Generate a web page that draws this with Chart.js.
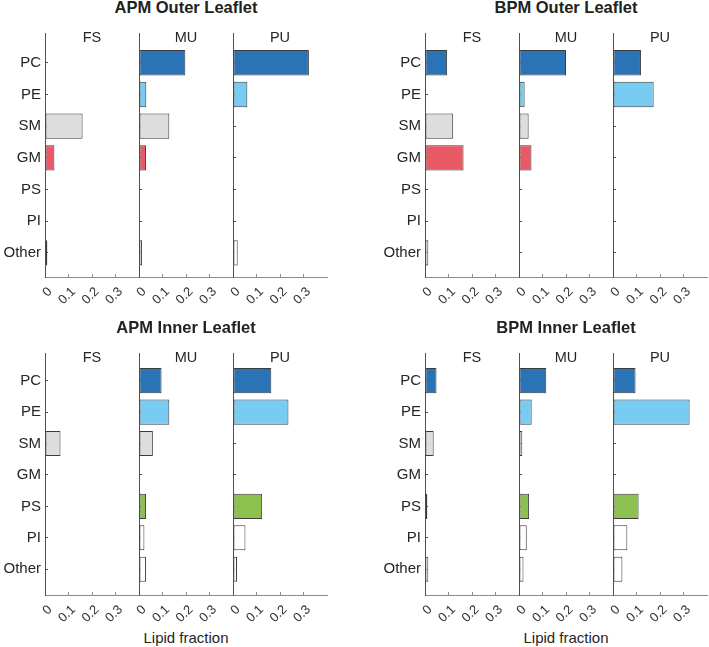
<!DOCTYPE html>
<html>
<head>
<meta charset="utf-8">
<script src="https://cdn.jsdelivr.net/npm/chart.js@4"></script>
<style>
  html, body { margin: 0; padding: 0; background: #fff; overflow: hidden; }
  #wrap { position: relative; width: 709px; height: 647px; font-family: "Liberation Sans", Arial, sans-serif; color: #222; }
  #wrap canvas { position: absolute; }
  .ptitle { position: absolute; text-align: center; font-weight: bold; font-size: 16.5px; line-height: 18px; color: #222; }
  .xlabel { position: absolute; text-align: center; font-size: 15px; line-height: 18px; color: #262626; }
</style>
</head>
<body>
<div id="wrap"></div>
<script>
const lipids = ['PC', 'PE', 'SM', 'GM', 'PS', 'PI', 'Other'];
const sites = ['FS', 'MU', 'PU'];
const lipidColors = ['#2a73b7', '#78ccf2', '#dcdddf', '#ea5a66', '#8dc14f', '#ffffff', '#ffffff'];
const xTicks = [0, 0.1, 0.2, 0.3];

// lipid fraction per site, order = lipids
const apmOuterFS = [0, 0, 0.160, 0.040, 0, 0, 0.010];
const apmOuterMU = [0.197, 0.031, 0.129, 0.030, 0, 0, 0.013];
const apmOuterPU = [0.323, 0.061, 0, 0, 0, 0, 0.020];

const bpmOuterFS = [0.094, 0, 0.120, 0.164, 0, 0, 0.014];
const bpmOuterMU = [0.200, 0.024, 0.041, 0.053, 0, 0, 0.002];
const bpmOuterPU = [0.119, 0.173, 0, 0, 0, 0, 0.003];

const apmInnerFS = [0, 0, 0.066, 0, 0, 0, 0.003];
const apmInnerMU = [0.096, 0.129, 0.059, 0, 0.030, 0.023, 0.030];
const apmInnerPU = [0.163, 0.236, 0, 0, 0.124, 0.053, 0.017];

const bpmInnerFS = [0.049, 0, 0.037, 0, 0.010, 0, 0.014];
const bpmInnerMU = [0.116, 0.054, 0.014, 0, 0.043, 0.033, 0.019];
const bpmInnerPU = [0.096, 0.326, 0, 0, 0.109, 0.061, 0.040];

const panels = [
  { title: 'APM Outer Leaflet', left: 45, top: 33, bottom: 277, titleTop: -2, yMin: -0.94, yMax: 6.76, series: [apmOuterFS, apmOuterMU, apmOuterPU] },
  { title: 'BPM Outer Leaflet', left: 425, top: 33, bottom: 277, titleTop: -2, yMin: -0.94, yMax: 6.76, series: [bpmOuterFS, bpmOuterMU, bpmOuterPU] },
  { title: 'APM Inner Leaflet', left: 45, top: 353, bottom: 595, titleTop: 318, yMin: -0.88, yMax: 6.82, series: [apmInnerFS, apmInnerMU, apmInnerPU], xlabel: 'Lipid fraction' },
  { title: 'BPM Inner Leaflet', left: 425, top: 353, bottom: 595, titleTop: 318, yMin: -0.88, yMax: 6.82, series: [bpmInnerFS, bpmInnerMU, bpmInnerPU], xlabel: 'Lipid fraction' },
];

const FONT = '"Liberation Sans", Arial, sans-serif';
const subW = 94, yW = 50, padTop = 15, padRight = 3, xH = 45;
const wrap = document.getElementById('wrap');

// draws the FS / MU / PU heading inside the top of each axes
const subTitle = {
  id: 'subTitle',
  afterDraw(chart, args, opts) {
    const a = chart.chartArea;
    const ctx = chart.ctx;
    ctx.save();
    ctx.font = '14.5px ' + FONT;
    ctx.fillStyle = '#262626';
    ctx.textAlign = 'center';
    ctx.textBaseline = 'middle';
    ctx.fillText(opts.text, (a.left + a.right) / 2, a.top + 5);
    ctx.restore();
  }
};

panels.forEach(p => {
  const t = document.createElement('div');
  t.className = 'ptitle';
  t.style.left = p.left + 'px';
  t.style.width = (subW * 3) + 'px';
  t.style.top = p.titleTop + 'px';
  t.textContent = p.title;
  wrap.appendChild(t);

  if (p.xlabel) {
    const xl = document.createElement('div');
    xl.className = 'xlabel';
    xl.style.left = p.left + 'px';
    xl.style.width = (subW * 3) + 'px';
    xl.style.top = (p.bottom + 34) + 'px';
    xl.textContent = p.xlabel;
    wrap.appendChild(xl);
  }

  p.series.forEach((vals, k) => {
    const cv = document.createElement('canvas');
    const w = yW + subW + padRight;
    const h = padTop + (p.bottom - p.top) + xH;
    cv.width = w;
    cv.height = h;
    cv.style.left = (p.left + k * subW - yW) + 'px';
    cv.style.top = (p.top - padTop) + 'px';
    wrap.appendChild(cv);

    new Chart(cv.getContext('2d'), {
      type: 'bar',
      data: {
        datasets: [{
          data: vals.map((v, i) => ({ x: v, y: i })),
          backgroundColor: lipidColors,
          borderColor: '#3c3c3c',
          borderWidth: 1,
          borderSkipped: false,
          barPercentage: 0.8,
          categoryPercentage: 1,
        }],
      },
      options: {
        indexAxis: 'y',
        responsive: false,
        animation: false,
        events: [],
        layout: { padding: { top: padTop, right: padRight, left: 0, bottom: 0 } },
        plugins: {
          legend: { display: false },
          tooltip: { enabled: false },
          subTitle: { text: sites[k] },
        },
        scales: {
          x: {
            type: 'linear',
            offset: false,
            min: 0,
            max: 0.4,
            grid: { display: true, drawOnChartArea: false, drawTicks: true, tickLength: -3, color: '#8a8a8a', offset: false },
            border: { display: true, color: '#8a8a8a', width: 1 },
            afterBuildTicks: s => { s.ticks = xTicks.map(v => ({ value: v })); },
            afterFit: s => { s.height = xH; s.paddingLeft = 0; s.paddingRight = 0; },
            ticks: {
              autoSkip: false,
              minRotation: 45,
              maxRotation: 45,
              padding: 10,
              labelOffset: 5,
              color: '#333333',
              font: { family: FONT, size: 13 },
              callback: v => String(v),
            },
          },
          y: {
            type: 'linear',
            offset: false,
            reverse: true,
            min: p.yMin,
            max: p.yMax,
            grid: { display: true, drawOnChartArea: false, drawTicks: true, tickLength: -3, color: '#505050', offset: false },
            border: { display: true, color: '#505050', width: 1 },
            afterBuildTicks: s => { s.ticks = lipids.map((c, i) => ({ value: i })); },
            afterFit: s => { s.width = yW; s.paddingTop = 0; s.paddingBottom = 0; },
            ticks: {
              display: k === 0,
              autoSkip: false,
              padding: 7,
              color: '#262626',
              font: { family: FONT, size: 15 },
              callback: v => lipids[v],
            },
          },
        },
      },
      plugins: [subTitle],
    });
  });
});
</script>
</body>
</html>
